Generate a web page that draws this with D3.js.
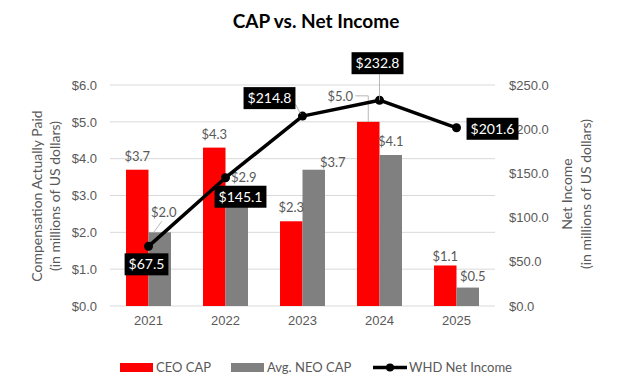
<!DOCTYPE html>
<html>
<head>
<meta charset="utf-8">
<script src="https://cdn.jsdelivr.net/npm/d3@7"></script>
<style>
  body { margin: 0; background: #fff; }
  svg { display: block; font-family: Lato, "Open Sans", sans-serif; }
</style>
</head>
<body>
<svg id="chart"></svg>
<script>
// data
const years = ["2021", "2022", "2023", "2024", "2025"];
const ceoCap = [3.7, 4.3, 2.3, 5.0, 1.1];
const neoCap = [2.0, 2.9, 3.7, 4.1, 0.5];
const netIncome = [67.5, 145.1, 214.8, 232.8, 201.6];
const leftTicks = [0, 1, 2, 3, 4, 5, 6];
const rightTicks = [0, 50, 100, 150, 200, 250];
const seriesNames = ["CEO CAP", "Avg. NEO CAP", "WHD Net Income"];

const width = 633, height = 387;
const plot = { left: 110, right: 495, top: 85, bottom: 306 };
const grey = "#595959";

const svg = d3.select("#chart").attr("width", width).attr("height", height);

const xScale = d3.scaleBand().domain(years)
  .range([plot.left, plot.right]).paddingInner(0.416).paddingOuter(0.208);
const xSub = d3.scaleBand().domain([0, 1]).range([0, xScale.bandwidth()]);
const yLeft = d3.scaleLinear().domain([0, 6]).range([plot.bottom, plot.top]);
const yRight = d3.scaleLinear().domain([0, 250]).range([plot.bottom, plot.top]);

const fmt1 = d3.format("$.1f");

// title
svg.append("text").attr("x", 316).attr("y", 28).attr("text-anchor", "middle")
  .attr("font-size", 19).attr("font-weight", "bold").attr("fill", "#000")
  .text("CAP vs. Net Income");

// gridlines
svg.append("g").selectAll("line").data(leftTicks).join("line")
  .attr("x1", plot.left).attr("x2", plot.right)
  .attr("y1", d => yLeft(d)).attr("y2", d => yLeft(d))
  .attr("stroke", "#d9d9d9").attr("stroke-width", 1);

// left axis
const leftAxis = svg.append("g").attr("transform", `translate(${plot.left},0)`)
  .call(d3.axisLeft(yLeft).tickValues(leftTicks).tickFormat(fmt1).tickSize(0).tickPadding(13));
leftAxis.select(".domain").remove();
leftAxis.selectAll("text").attr("font-size", 13).attr("fill", grey).attr("font-family", null);

// right axis
const rightAxis = svg.append("g").attr("transform", `translate(${plot.right},0)`)
  .call(d3.axisRight(yRight).tickValues(rightTicks).tickFormat(fmt1).tickSize(0).tickPadding(14));
rightAxis.select(".domain").remove();
rightAxis.selectAll("text").attr("font-size", 13).attr("fill", grey).attr("font-family", null);

// x axis
const xAxis = svg.append("g").attr("transform", `translate(0,${plot.bottom})`)
  .call(d3.axisBottom(xScale).tickSize(0).tickPadding(10));
xAxis.select(".domain").remove();
xAxis.selectAll("text").attr("font-size", 13).attr("fill", grey).attr("font-family", null);

// axis titles
const leftTitle = svg.append("text").attr("transform", "translate(0,196) rotate(-90)")
  .attr("text-anchor", "middle").attr("font-size", 14).attr("fill", grey);
leftTitle.append("tspan").attr("x", 0).attr("y", 42).text("Compensation Actually Paid");
leftTitle.append("tspan").attr("x", 0).attr("y", 60).text("(in millions of US dollars)");

const rightTitle = svg.append("text").attr("transform", "translate(0,194) rotate(-90)")
  .attr("text-anchor", "middle").attr("font-size", 14).attr("fill", grey);
rightTitle.append("tspan").attr("x", 0).attr("y", 572).text("Net Income");
rightTitle.append("tspan").attr("x", 0).attr("y", 591).text("(in millions of US dollars)");

// bars
const barSeries = [
  { values: ceoCap, color: "#ff0000" },
  { values: neoCap, color: "#808080" }
];
barSeries.forEach((s, si) => {
  svg.append("g").selectAll("rect").data(s.values).join("rect")
    .attr("x", (d, i) => xScale(years[i]) + xSub(si))
    .attr("width", xSub.bandwidth())
    .attr("y", d => yLeft(d))
    .attr("height", d => yLeft(0) - yLeft(d))
    .attr("fill", s.color);
});

// bar label nudges (layout only): [series][year] -> [dx, dy, leader]
const barLabelNudge = {
  "1-0": [4, -15, true],
  "1-1": [7, -17],
  "1-2": [19, -3],
  "0-3": [-28, -21, true],
  "0-4": [0, -4],
  "1-4": [5, -7]
};
barSeries.forEach((s, si) => {
  s.values.forEach((v, i) => {
    const cx = xScale(years[i]) + xSub(si) + xSub.bandwidth() / 2;
    const top = yLeft(v);
    const n = barLabelNudge[si + "-" + i] || [0, -9];
    const lx = cx + n[0], ly = top + n[1];
    svg.append("text").attr("x", lx).attr("y", ly).attr("text-anchor", "middle")
      .attr("font-size", 13).attr("fill", grey).text(fmt1(v));
    if (n[2]) {
      if (n[0] < 0) {
        svg.append("polyline")
          .attr("points", `${lx + 15},${ly - 5} ${cx},${ly - 5} ${cx},${top}`)
          .attr("fill", "none").attr("stroke", "#a6a6a6").attr("stroke-width", 0.8);
      } else {
        svg.append("line").attr("x1", lx - 2).attr("y1", ly + 4).attr("x2", cx - 6).attr("y2", top)
          .attr("stroke", "#a6a6a6").attr("stroke-width", 0.8);
      }
    }
  });
});

// net income line
const lineX = (d, i) => xScale(years[i]) + xScale.bandwidth() / 2;
svg.append("path").datum(netIncome)
  .attr("d", d3.line().x(lineX).y(d => yRight(d)))
  .attr("fill", "none").attr("stroke", "#000").attr("stroke-width", 3.5)
  .attr("stroke-linejoin", "round");
svg.append("g").selectAll("circle").data(netIncome).join("circle")
  .attr("cx", lineX).attr("cy", d => yRight(d)).attr("r", 4.5).attr("fill", "#000");

// line labels: [dx, dy] of box centre from point
const lineLabelNudge = [[-2, 18], [15, 19], [-33, -18], [-2, -37], [36, 1]];
netIncome.forEach((v, i) => {
  const px = lineX(v, i), py = yRight(v);
  const [dx, dy] = lineLabelNudge[i];
  const cx = px + dx, cy = py + dy;
  const g = svg.append("g");
  if (i === 2) {
    g.append("line").attr("x1", cx + 26).attr("y1", cy + 6).attr("x2", px - 2).attr("y2", py - 2)
      .attr("stroke", "#a6a6a6").attr("stroke-width", 0.8);
  }
  if (i === 3) {
    g.append("line").attr("x1", px).attr("y1", cy + 10).attr("x2", px).attr("y2", py)
      .attr("stroke", "#a6a6a6").attr("stroke-width", 0.8);
  }
  const t = g.append("text").attr("x", cx).attr("y", cy + 5).attr("text-anchor", "middle")
    .attr("font-size", 14).attr("fill", "#fff").text(fmt1(v));
  const w = t.node().getComputedTextLength() + 8;
  g.insert("rect", "text").attr("x", cx - w / 2).attr("y", cy - 11).attr("width", w).attr("height", 22)
    .attr("fill", "#000");
});

// legend
const legend = svg.append("g").attr("font-size", 13).attr("fill", grey);
const legendX = [120, 231, 373];
legend.append("rect").attr("x", legendX[0]).attr("y", 363).attr("width", 33).attr("height", 9).attr("fill", "#ff0000");
legend.append("rect").attr("x", legendX[1]).attr("y", 363).attr("width", 33).attr("height", 9).attr("fill", "#808080");
legend.append("line").attr("x1", legendX[2]).attr("x2", legendX[2] + 34).attr("y1", 367.5).attr("y2", 367.5)
  .attr("stroke", "#000").attr("stroke-width", 3.5);
legend.append("circle").attr("cx", legendX[2] + 17).attr("cy", 367.5).attr("r", 4).attr("fill", "#000");
seriesNames.forEach((name, i) => {
  legend.append("text").attr("x", legendX[i] + 36).attr("y", 372).attr("fill", grey).text(name);
});
</script>
</body>
</html>
